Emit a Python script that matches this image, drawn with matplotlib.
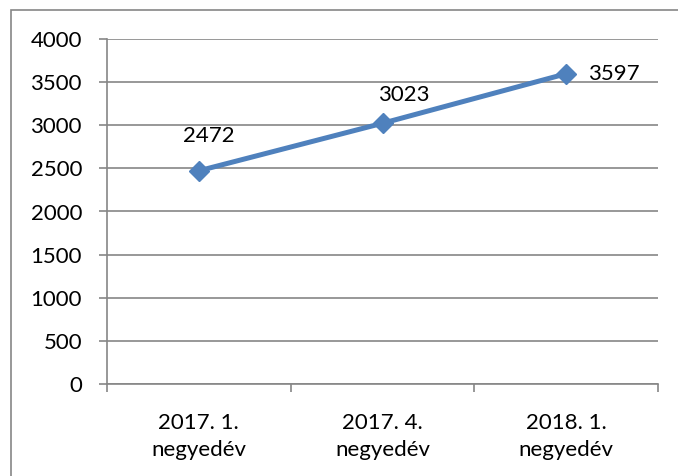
import matplotlib
matplotlib.use('Agg')
import matplotlib.pyplot as plt
import matplotlib.patches as patches

categories = ['2017. 1.\nnegyedév', '2017. 4.\nnegyedév', '2018. 1.\nnegyedév']
values = [2472, 3023, 3597]
y_ticks = [0, 500, 1000, 1500, 2000, 2500, 3000, 3500, 4000]

LINE_COLOR = '#4F81BD'
GRAY = '#868686'
FS = 16

plt.rcParams['font.family'] = ['Lato', 'DejaVu Sans']

fig = plt.figure(figsize=(6.78, 4.76), dpi=100)
ax = fig.add_axes([107 / 678, 1 - 384 / 476, (658 - 107) / 678, (384 - 39) / 476])

x = list(range(len(categories)))
ax.plot(x, values, color=LINE_COLOR, linewidth=3.6, marker='D', markersize=9.8,
        markerfacecolor=LINE_COLOR, markeredgecolor=LINE_COLOR, zorder=3)

# data labels (offsets in points)
offsets = [(7, 25), (15, 20), (34, 0)]
for xi, v, off in zip(x, values, offsets):
    ax.annotate(str(v), (xi, v), xytext=off, textcoords='offset points',
                ha='center', va='center', fontsize=FS, color='black')

ax.set_xlim(-0.5, len(categories) - 0.5)
ax.set_ylim(0, 4000)
ax.set_yticks(y_ticks)
ax.set_yticklabels([str(t) for t in y_ticks])
ax.yaxis.grid(True, color=GRAY, linewidth=1.2)
ax.set_axisbelow(True)

ax.set_xticks(x)
ax.set_xticklabels(categories, linespacing=1.45)
ax.set_xticks([-0.5, 0.5, 1.5, 2.5], minor=True)
ax.tick_params(axis='x', which='major', length=0, pad=21, labelsize=FS)
ax.tick_params(axis='x', which='minor', length=6, width=1.2, color=GRAY, direction='out')
ax.tick_params(axis='y', length=6, width=1.2, color=GRAY, pad=12, labelsize=FS)

for s in ['top', 'right']:
    ax.spines[s].set_visible(False)
for s in ['left', 'bottom']:
    ax.spines[s].set_color(GRAY)
    ax.spines[s].set_linewidth(1.2)

# outer chart frame (cut off at right and bottom)
frame = patches.Rectangle((11 / 678, -0.1), 2, 1.1 - 10 / 476, transform=fig.transFigure,
                          fill=False, edgecolor=GRAY, linewidth=1.2, clip_on=False)
fig.patches.append(frame)

fig.savefig('out.png', dpi=100)
